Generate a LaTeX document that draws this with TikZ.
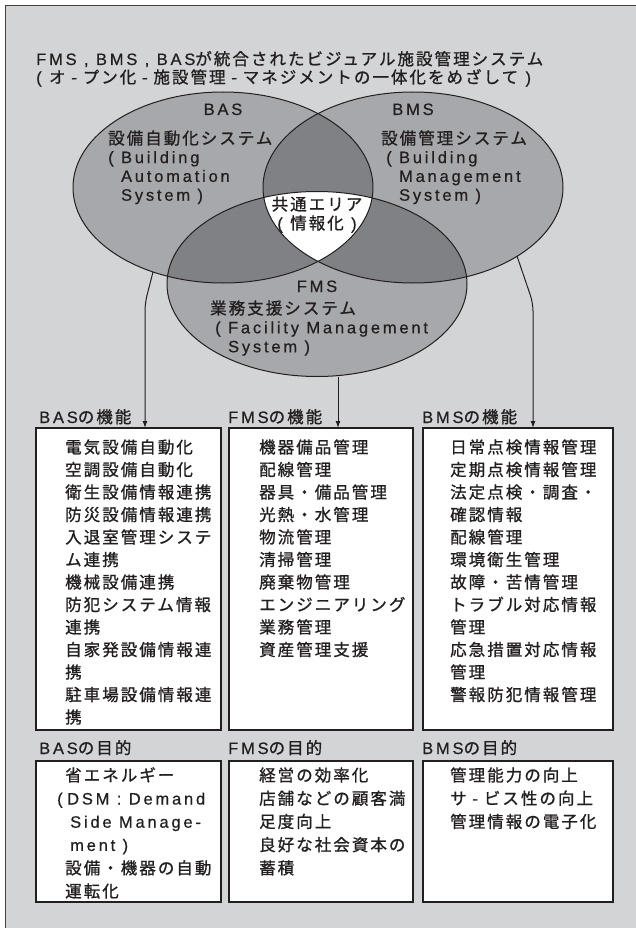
\documentclass[tikz,border=0pt]{standalone}
\usepackage{fontspec}
\newfontfamily\jp{Noto Sans CJK JP}[LetterSpace=12.3, FakeBold=1]
\newfontfamily\latf{Liberation Sans}[LetterSpace=17, FakeBold=0.6]
\newcommand\LT[1]{{\latf #1}}
\usetikzlibrary{arrows.meta}
\definecolor{bg}{HTML}{D3D4D6}
\definecolor{mid}{HTML}{A7A8AB}
\definecolor{deep}{HTML}{808184}
\definecolor{ink}{HTML}{231F20}
\begin{document}
\begin{tikzpicture}[x=1pt,y=-1pt,
  txt/.style={font=\jp\fontsize{16.5}{#1}\selectfont, text=ink, inner sep=0pt, align=left, anchor=base west},
  txt/.default=19,
  lab/.style={font=\jp\fontsize{16.5}{19}\selectfont, text=ink, inner sep=0pt, anchor=base},
  box/.style={draw=ink, line width=2.2pt, fill=white, anchor=north west, inner sep=0pt, outer sep=0pt},
  arr/.style={draw=ink, line width=1pt, -{Latex[length=7pt,width=5pt]}},
  ell/.style={draw=ink, line width=1pt}
]
\useasboundingbox (0,0) rectangle (635,928);
% background frame
\fill[bg] (5.5,5.5) rectangle (640,935);
\draw[ink!85, line width=1.2pt] (640,5.5) -- (5.5,5.5) -- (5.5,935);

% title (base = baseline of last line)
\node[txt=18.3] (title) at (36,83.3) {\LT{FMS , BMS , BAS}が統合されたビジュアル施設管理システム\\\LT{( }オ - プン化 - 施設管理 - マネジメントの一体化をめざして\LT{ )}};

% Venn fills
\fill[mid] (223,187.5) ellipse [x radius=150pt, y radius=95.5pt];
\fill[mid] (413,187.5) ellipse [x radius=150pt, y radius=95.5pt];
\fill[mid] (317,284) ellipse [x radius=150pt, y radius=92.5pt];
\begin{scope}
  \clip (223,187.5) ellipse [x radius=150pt, y radius=95.5pt];
  \fill[deep] (413,187.5) ellipse [x radius=150pt, y radius=95.5pt];
  \fill[deep] (317,284) ellipse [x radius=150pt, y radius=92.5pt];
\end{scope}
\begin{scope}
  \clip (413,187.5) ellipse [x radius=150pt, y radius=95.5pt];
  \fill[deep] (317,284) ellipse [x radius=150pt, y radius=92.5pt];
\end{scope}
\begin{scope}
  \clip (223,187.5) ellipse [x radius=150pt, y radius=95.5pt];
  \clip (413,187.5) ellipse [x radius=150pt, y radius=95.5pt];
  \fill[white] (317,284) ellipse [x radius=150pt, y radius=92.5pt];
\end{scope}
\draw[ell] (223,187.5) ellipse [x radius=150pt, y radius=95.5pt];
\draw[ell] (413,187.5) ellipse [x radius=150pt, y radius=95.5pt];
\draw[ell] (317,284) ellipse [x radius=150pt, y radius=92.5pt];

% Venn texts
\node[lab] (basT) at (223,115) {\LT{BAS}};
\node[lab] (bmsT) at (413,115) {\LT{BMS}};
\node[lab] (fmsT) at (317,292) {\LT{FMS}};
\node[txt=18.8] (basD) at (108,200.7) {設備自動化システム\\\LT{( Building}\\\hphantom{\LT{( }}\LT{Automation}\\\hphantom{\LT{( }}\LT{System )}};
\node[txt=18.8] (bmsD) at (381,200.7) {設備管理システム\\\hspace*{5pt}\LT{( Building}\\\hspace*{5pt}\hphantom{\LT{( }}\LT{Management}\\\hspace*{5pt}\hphantom{\LT{( }}\LT{System )}};
\node[txt=19, align=center, anchor=base] (common) at (317,229.3) {共通エリア\\\LT{( }情報化\LT{ )}};
\node[txt=19] (fmsD) at (210,352.3) {業務支援システム\\\hspace*{5pt}\LT{( Facility Management}\\\hspace*{5pt}\hphantom{\LT{( }}\LT{System )}};

% function boxes
\node[box, minimum width=185pt, minimum height=302pt] (basF) at (36,428) {};
\node[box, minimum width=184pt, minimum height=302pt] (fmsF) at (229,428) {};
\node[box, minimum width=190pt, minimum height=302pt] (bmsF) at (423,428) {};
\node[txt] (basFl) at (39,423) {\LT{BAS}の機能};
\node[txt] (fmsFl) at (228,423) {\LT{FMS}の機能};
\node[txt] (bmsFl) at (422,423) {\LT{BMS}の機能};
\node[txt=22.5] (basFt) at (65,723.3) {電気設備自動化\\空調設備自動化\\衛生設備情報連携\\防災設備情報連携\\入退室管理システ\\ム連携\\機械設備連携\\防犯システム情報\\連携\\自家発設備情報連\\携\\駐車場設備情報連\\携};
\node[txt=22.5] (fmsFt) at (259,655.8) {機器備品管理\\配線管理\\器具・備品管理\\光熱・水管理\\物流管理\\清掃管理\\廃棄物管理\\エンジニアリング\\業務管理\\資産管理支援};
\node[txt=22.5] (bmsFt) at (450,700.8) {日常点検情報管理\\定期点検情報管理\\法定点検・調査・\\確認情報\\配線管理\\環境衛生管理\\故障・苦情管理\\トラブル対応情報\\管理\\応急措置対応情報\\管理\\警報防犯情報管理};

% purpose boxes
\node[box, minimum width=185pt, minimum height=141pt] (basP) at (36,761) {};
\node[box, minimum width=184pt, minimum height=141pt] (fmsP) at (229,761) {};
\node[box, minimum width=190pt, minimum height=141pt] (bmsP) at (423,761) {};
\node[txt] (basPl) at (39,754) {\LT{BAS}の目的};
\node[txt] (fmsPl) at (228,754) {\LT{FMS}の目的};
\node[txt] (bmsPl) at (422,754) {\LT{BMS}の目的};
\node[txt=23.2] (basPt) at (57,897.3) {\hspace*{8pt}省エネルギー\\\LT{(\hspace{4.5pt}DSM : Demand}\\\hspace*{13pt}\LT{Side Manage-}\\\hspace*{13pt}\LT{ment )}\\\hspace*{8pt}設備・機器の自動\\\hspace*{8pt}運転化};
\node[txt=23.2] (fmsPt) at (259,874.1) {経営の効率化\\店舗などの顧客満\\足度向上\\良好な社会資本の\\蓄積};
\node[txt=23.2] (bmsPt) at (450,827.7) {管理能力の向上\\サ - ビス性の向上\\管理情報の電子化};

% arrows
\coordinate (basA) at (153,272);
\coordinate (basK) at (145,303);
\coordinate (fmsA) at (338,376.5);
\coordinate (bmsA) at (517,256);
\coordinate (bmsK) at (533,303);
\draw[arr, rounded corners=8pt] (basA) -- (basK) -- (basK |- basF.north);
\draw[arr] (fmsA) -- (fmsA |- fmsF.north);
\draw[arr, rounded corners=8pt] (bmsA) -- (bmsK) -- (bmsK |- bmsF.north);
\end{tikzpicture}
\end{document}
